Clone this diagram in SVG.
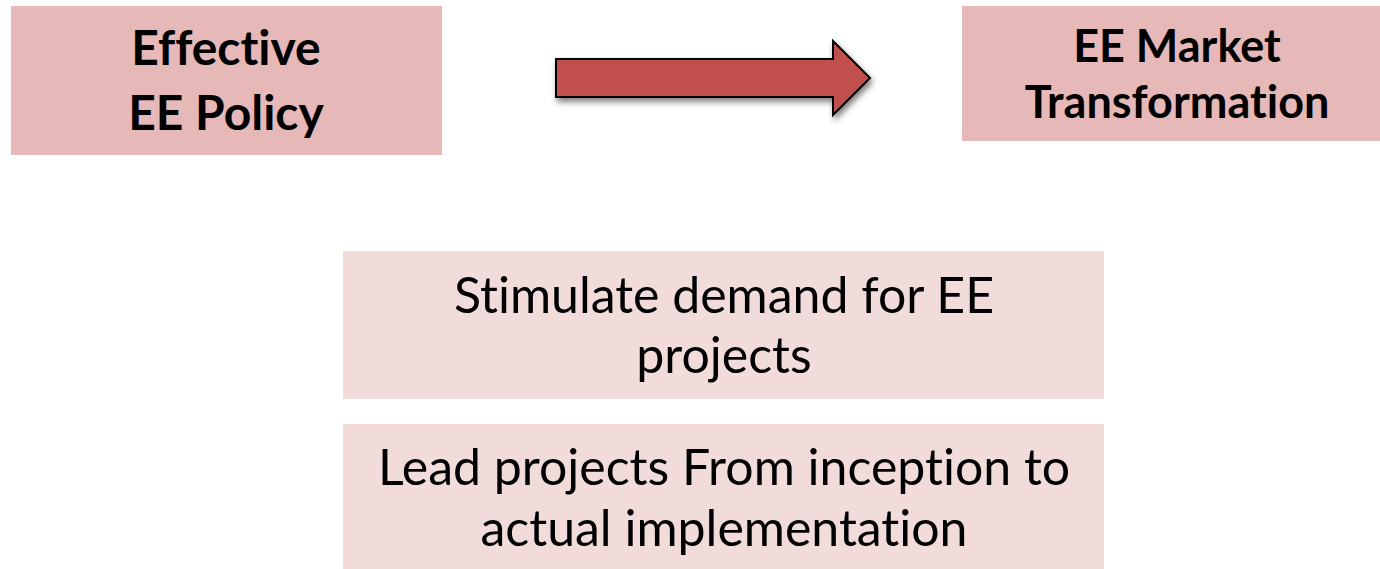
<svg xmlns="http://www.w3.org/2000/svg" width="1380" height="569" viewBox="0 0 1380 569">
<style>
.dark{fill:#e6b8b7}
.light{fill:#f2dcdb}
.t{font-family:Lato,"Liberation Sans",sans-serif;fill:#000;text-anchor:middle;font-variant-ligatures:none}
.b{font-weight:bold;font-size:48px}
.b2{font-weight:bold;font-size:45px}
.n{font-size:50px}
</style>
<defs>
<filter id="sh" x="-20%" y="-40%" width="140%" height="180%">
<feGaussianBlur in="SourceAlpha" stdDeviation="3"/>
<feOffset dx="2" dy="4" result="o"/>
<feComponentTransfer><feFuncA type="linear" slope="0.5"/></feComponentTransfer>
<feMerge><feMergeNode/><feMergeNode in="SourceGraphic"/></feMerge>
</filter>
</defs>
<rect width="1380" height="569" fill="#fff"/>
<g id="node-policy">
<rect class="dark" x="11" y="6" width="431" height="149"/>
<text class="t b" x="226" y="65">Effective</text>
<text class="t b" x="226" y="130">EE Policy</text>
</g>
<g id="node-market">
<rect class="dark" x="962" y="6" width="418" height="135"/>
<text class="t b2" x="1177" y="62">EE Market</text>
<text class="t b2" x="1177" y="118">Transformation</text>
</g>
<g id="connectors">
<path d="M556,59 L833,59 L833,41 L870,78 L833,115 L833,97 L556,97 Z" fill="#c0504d" stroke="#000" stroke-width="2" stroke-linejoin="miter" filter="url(#sh)"/>
</g>
<g id="node-demand">
<rect class="light" x="343" y="251" width="761" height="148"/>
<text class="t n" x="724" y="313">Stimulate demand for EE</text>
<text class="t n" x="724" y="373">projects</text>
</g>
<g id="node-lead">
<rect class="light" x="343" y="424" width="761" height="145"/>
<text class="t n" x="724" y="485">Lead projects From inception to</text>
<text class="t n" x="724" y="546">actual implementation</text>
</g>
</svg>
